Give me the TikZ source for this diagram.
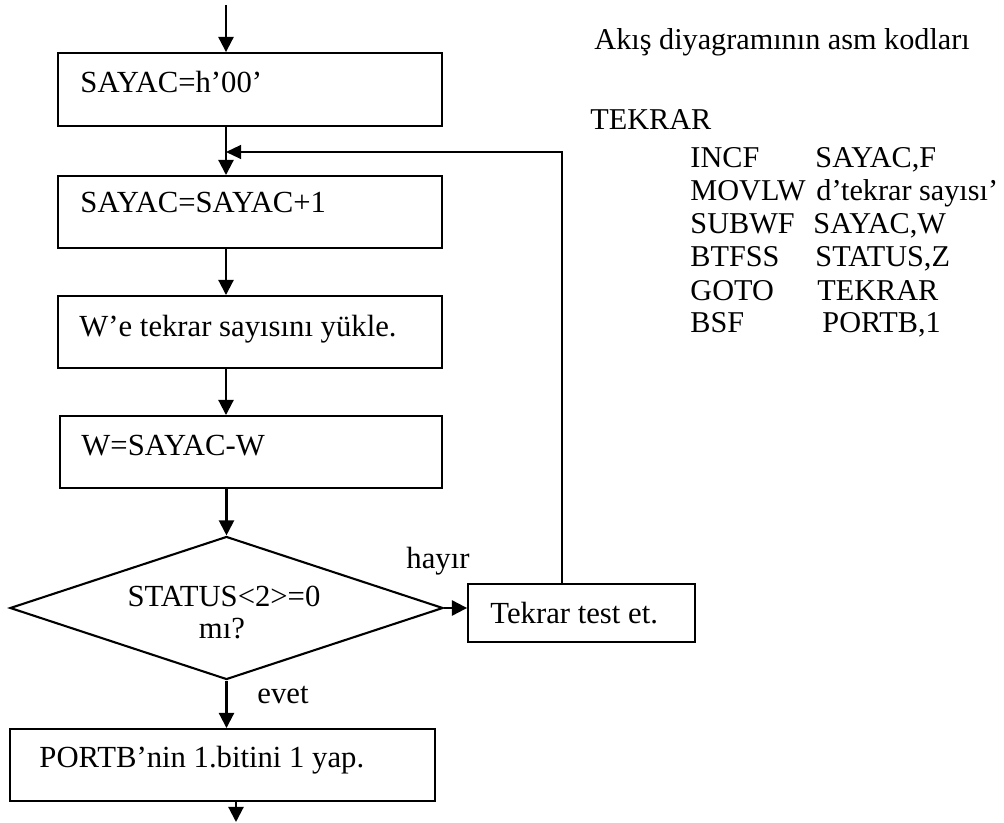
\documentclass[tikz,border=0pt]{standalone}
\usepackage{fontspec}
\setmainfont{Liberation Serif}
\usetikzlibrary{arrows.meta,shapes.geometric}
\begin{document}
\begin{tikzpicture}[x=0.43pt,y=-0.43pt,
  box/.style={draw,rectangle,line width=0.8pt,inner sep=0pt},
  txt/.style={anchor=base west,inner sep=0pt,font=\fontsize{13.2}{15}\selectfont},
  asm/.style={anchor=base west,inner sep=0pt,font=\fontsize{13}{15}\selectfont},
  flow/.style={line width=0.9pt,-{Triangle[length=6.5pt,width=6.5pt]}},
  back/.style={line width=0.7pt,-{Triangle[length=6.5pt,width=6pt]}}]
\path[use as bounding box] (0,0) rectangle (1004,823);

% flowchart boxes
\node[box,minimum width=165.1pt,minimum height=31.4pt] (b1) at (250,89.5) {};
\node[box,minimum width=165.1pt,minimum height=31pt] (b2) at (250,212) {};
\node[box,minimum width=165.1pt,minimum height=31pt] (b3) at (250,332) {};
\node[box,minimum width=164.3pt,minimum height=31pt] (b4) at (251,452) {};
\node[draw,diamond,line width=0.9pt,inner sep=0pt,minimum width=186.2pt,minimum height=61.5pt] (dia) at (226.5,608) {};
\node[box,minimum width=97.6pt,minimum height=24.9pt] (tk) at (581.5,613) {};
\node[box,minimum width=182.8pt,minimum height=31pt] (pb) at (222.5,765) {};

% texts inside the shapes
\node[txt] (t1) at (80,93) {SAYAC=h’00’};
\node[txt] (t2) at (80,213) {SAYAC=SAYAC+1};
\node[txt] (t3) at (79,337) {W’e tekrar sayısını yükle.};
\node[txt] (t4) at (81,455) {W=SAYAC-W};
\node[txt,anchor=base] (t5) at (224,606) {STATUS<2>=0};
\node[txt,anchor=base] (t6) at (222,638) {mı?};
\node[txt] (t7) at (490,623) {Tekrar test et.};
\node[txt] (t8) at (39,767) {PORTB’nin 1.bitini 1 yap.};
\node[txt] (hy) at (406,568) {hayır};
\node[txt] (ev) at (257,703) {evet};

% connector helpers
\coordinate (start) at (226,5);
\coordinate (loopin) at (226,152);
\coordinate (corner) at (562,152);
\coordinate (exit) at (236,822);

\draw[flow] (start) -- (b1.north -| start);
\draw[flow] (b1.south -| start) -- (b2.north -| start);
\draw[flow] (b2.south -| start) -- (b3.north -| start);
\draw[flow] (b3.south -| start) -- (b4.north -| start);
\draw[flow] (b4.south -| dia.north) -- (dia.north);
\draw[flow] (dia.east) -- (dia.east -| tk.west);
\draw[flow] (dia.south) -- (pb.north -| dia.south);
\draw[flow] (pb.south -| exit) -- (exit);
\draw[back] (tk.north -| corner) -- (corner) -- (loopin);

% assembly listing
\node[asm] (title) at (594,50) {Akış diyagramının asm kodları};
\node[asm] (lbl) at (590,130) {TEKRAR};
\node[asm] (i1) at (690,168) {INCF};
\node[asm] (o1) at (815,168) {SAYAC,F};
\node[asm] (i2) at (690,201) {MOVLW};
\node[asm] (o2) at (816,201) {d’tekrar sayısı’};
\node[asm] (i3) at (690,234) {SUBWF};
\node[asm] (o3) at (813,234) {SAYAC,W};
\node[asm] (i4) at (690,267) {BTFSS};
\node[asm] (o4) at (815,267) {STATUS,Z};
\node[asm] (i5) at (690,300) {GOTO};
\node[asm] (o5) at (817,300) {TEKRAR};
\node[asm] (i6) at (690,333) {BSF};
\node[asm] (o6) at (822,333) {PORTB,1};
\end{tikzpicture}
\end{document}
